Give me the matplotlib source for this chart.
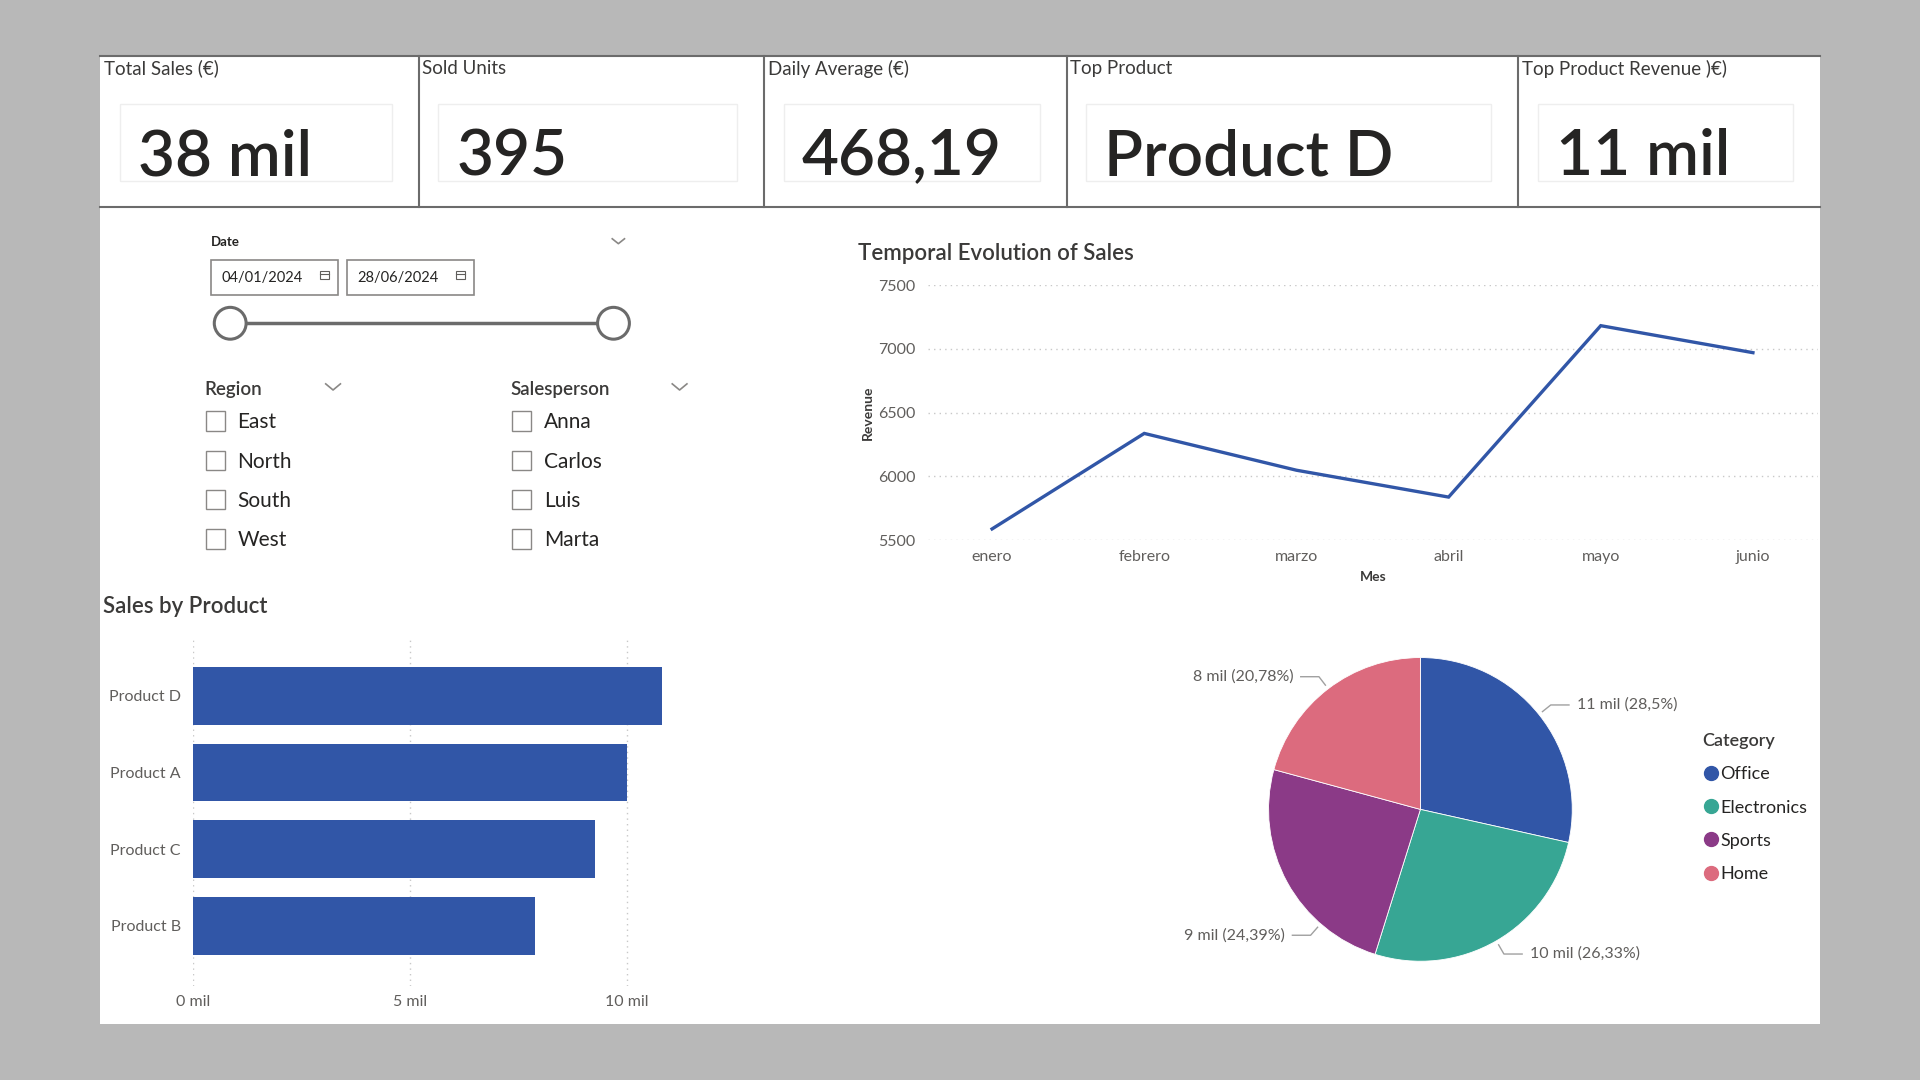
import numpy as np
import matplotlib
matplotlib.use("Agg")
import matplotlib.pyplot as plt
from matplotlib.patches import Rectangle, Circle
from matplotlib.lines import Line2D
from matplotlib.ticker import FuncFormatter

plt.rcParams['font.family'] = ['Lato', 'DejaVu Sans']

# ---- data ----
kpi_titles = ['Total Sales (€)', 'Sold Units', 'Daily Average (€)', 'Top Product', 'Top Product Revenue )€)']
sold_units = 395
daily_average = 468.19

months = ['enero', 'febrero', 'marzo', 'abril', 'mayo', 'junio']
monthly_revenue = [5587, 6337, 6048, 5837, 7183, 6971]

products = ['Product D', 'Product A', 'Product C', 'Product B']
product_revenue = [10820, 9996, 9259, 7889]

categories = ['Office', 'Electronics', 'Sports', 'Home']
category_revenue = [10820, 9996, 9259, 7889]
category_colors = ['#3156A7', '#37A694', '#8B3A87', '#DC6B7E']

regions = ['East', 'North', 'South', 'West']
salespeople = ['Anna', 'Carlos', 'Luis', 'Marta']
date_from = '04/01/2024'
date_to = '28/06/2024'

# ---- layout helpers (reference drawn on a 1568 x 882 grid) ----
W, H = 1568.0, 882.0
DARK = '#252423'
GREY = '#605E5C'
BLUE = '#3156A7'


def rect(x0, y0, x1, y1):
    return [x0 / W, 1 - y1 / H, (x1 - x0) / W, (y1 - y0) / H]


def mil(v):
    return f"{v / 1000:.0f} mil"


def comma(v, nd=2):
    s = f"{v:.{nd}f}".rstrip('0').rstrip('.')
    return s.replace('.', ',')


fig = plt.figure(figsize=(19.2, 10.8), dpi=100, facecolor='#B8B8B8')
base = fig.add_axes([0, 0, 1, 1])
base.set_xlim(0, W)
base.set_ylim(H, 0)
base.axis('off')

# white canvas
base.add_patch(Rectangle((82, 45), 1404, 791, facecolor='white', edgecolor='none'))

# ---- KPI cards ----
card_edges = [82, 342, 624, 871, 1240, 1486]
total_sales = sum(monthly_revenue)
top_idx = int(np.argmax(product_revenue))
kpi_values = [mil(total_sales), str(sold_units), comma(daily_average),
              products[top_idx], mil(product_revenue[top_idx])]

base.plot([82, 1486], [46, 46], color='#6b6b6b', lw=1.5)
base.plot([82, 1486], [169, 169], color='#6b6b6b', lw=1.5)
for x in card_edges[1:-1]:
    base.plot([x, x], [46, 169], color='#6b6b6b', lw=1.5)

for i, (t, v) in enumerate(zip(kpi_titles, kpi_values)):
    x0, x1 = card_edges[i], card_edges[i + 1]
    base.text(x0 + 3, 56, t, fontsize=13.5, color='#3b3a39', va='center', ha='left')
    base.add_patch(Rectangle((x0 + 16, 85), (x1 - x0) - 38, 63, facecolor='none',
                             edgecolor='#eeeeee', lw=1))
    base.text(x0 + 31, 143, v, fontsize=46, fontweight=600, color=DARK, va='baseline', ha='left')

# ---- date slicer ----
base.text(172, 198, 'Date', fontsize=9.5, fontweight='bold', color=DARK, va='center')


def chevron(x, y, w=6, h=5, color='#8a8886'):
    base.plot([x - w, x, x + w], [y - h / 2, y + h / 2, y - h / 2], color=color, lw=1.2)


chevron(505, 197, 5, 4)
for bx, txt in [(172, date_from), (283, date_to)]:
    base.add_patch(Rectangle((bx, 212), 104, 29, facecolor='white', edgecolor='#8a8886', lw=1.2))
    base.text(bx + 9, 227, txt, fontsize=10.5, color=DARK, va='center')
    base.add_patch(Rectangle((bx + 89, 221), 8, 7, facecolor='none', edgecolor=GREY, lw=0.8))
    base.plot([bx + 89, bx + 97], [223.5, 223.5], color=GREY, lw=0.8)

base.plot([188, 501], [264, 264], color='#6b6b6b', lw=2.5)
for cx in (188, 501):
    base.add_patch(Circle((cx, 264), 13, facecolor='white', edgecolor='#6b6b6b', lw=2.2, zorder=3))

# ---- region / salesperson slicers ----
for hx, chx, title, items in [(167, 272, 'Region', regions), (417, 555, 'Salesperson', salespeople)]:
    base.text(hx, 318, title, fontsize=13.5, fontweight=600, color='#3b3a39', va='center')
    chevron(chx, 316)
    for j, it in enumerate(items):
        y = 344 + j * 32
        base.add_patch(Rectangle((hx + 1, y - 8), 16, 16, facecolor='white', edgecolor='#8a8886', lw=1))
        base.text(hx + 27, y + 1, it, fontsize=15, color=DARK, va='center')

# ---- line chart ----
base.text(701, 207, 'Temporal Evolution of Sales', fontsize=16, fontweight=600, color='#3b3a39', va='center')
ax = fig.add_axes(rect(758, 233, 1485, 441))
x = np.arange(len(months))
ax.plot(x, monthly_revenue, color=BLUE, lw=2.4, solid_joinstyle='miter')
ax.set_xlim(-0.42, 5.43)
ax.set_ylim(5500, 7500)
ax.set_yticks([5500, 6000, 6500, 7000, 7500])
ax.set_xticks(x)
ax.set_xticklabels(months)
ax.tick_params(length=0, labelsize=11.5, labelcolor=GREY)
ax.tick_params(axis='y', pad=9)
ax.tick_params(axis='x', pad=7)
ax.grid(axis='y', color='#c8c8c8', lw=1, linestyle=(0, (1, 3)))
ax.set_axisbelow(True)
for s in ax.spines.values():
    s.set_visible(False)
ax.set_ylabel('Revenue', fontsize=10, fontweight='bold', color='#3b3a39', labelpad=3)
ax.set_xlabel('Mes', fontsize=10, fontweight='bold', color='#3b3a39', labelpad=5)
ax.patch.set_alpha(0)

# ---- bar chart ----
base.text(84, 495, 'Sales by Product', fontsize=16, fontweight=600, color='#3b3a39', va='center')
bx = fig.add_axes(rect(158, 520, 565, 805))
yp = np.arange(len(products))
bx.barh(yp, product_revenue, height=0.75, color=BLUE, zorder=2)
bx.set_ylim(3.78, -0.77)
bx.set_xlim(0, 11500)
bx.set_yticks(yp)
bx.set_yticklabels(products)
bx.set_xticks([0, 5000, 10000])
bx.xaxis.set_major_formatter(FuncFormatter(lambda v, p: mil(v)))
bx.tick_params(length=0, labelsize=11.5, labelcolor=GREY)
bx.tick_params(axis='y', pad=9)
bx.tick_params(axis='x', pad=7)
bx.grid(axis='x', color='#c8c8c8', lw=1, linestyle=(0, (1, 3)))
bx.set_axisbelow(True)
for s in bx.spines.values():
    s.set_visible(False)
bx.patch.set_alpha(0)

# ---- pie chart ----
cx, cy, r = 1160.0, 661.0, 124.0
span = 1.7 * r
pax = fig.add_axes(rect(cx - span, cy - span, cx + span, cy + span))
wedges, _ = pax.pie(category_revenue, colors=category_colors, startangle=90, counterclock=False,
                    radius=1.0, wedgeprops=dict(edgecolor='white', linewidth=0.6))
pax.set_xlim(-1.7, 1.7)
pax.set_ylim(-1.7, 1.7)
pax.axis('off')
total_cat = sum(category_revenue)
# where along each wedge the label leader attaches (0 = start, 1 = end, clockwise)
anchor_frac = [0.5, 0.5, 0.27, 0.5]
for w, v, fr in zip(wedges, category_revenue, anchor_frac):
    ang = np.deg2rad(w.theta2 - fr * (w.theta2 - w.theta1))
    ca, sa = np.cos(ang), np.sin(ang)
    side = 1 if ca >= 0 else -1
    p0 = (1.03 * ca, 1.03 * sa)
    p1 = (1.1 * ca, 1.1 * sa)
    p2 = (p1[0] + side * 0.12, p1[1])
    pax.plot([p0[0], p1[0], p2[0]], [p0[1], p1[1], p2[1]], color='#a0a0a0', lw=1, clip_on=False)
    lbl = f"{mil(v)} ({comma(100 * v / total_cat)}%)"
    pax.text(p2[0] + side * 0.05, p2[1], lbl, fontsize=11.5, color=GREY,
             ha='left' if side > 0 else 'right', va='center', clip_on=False)

handles = [Line2D([], [], marker='o', ls='none', markersize=10, markerfacecolor=c, markeredgecolor=c)
           for c in category_colors]
leg = fig.legend(handles, categories, title='Category', loc='upper left',
                 bbox_to_anchor=(1384 / W, 1 - 593 / H), frameon=False, fontsize=13,
                 title_fontproperties={'size': 13, 'weight': 600}, labelspacing=0.95,
                 handletextpad=0.0, handlelength=1.0, borderaxespad=0, alignment='left')
leg.get_title().set_color('#3b3a39')
for t in leg.get_texts():
    t.set_color(DARK)

fig.savefig('out.png', dpi=100, facecolor=fig.get_facecolor())
